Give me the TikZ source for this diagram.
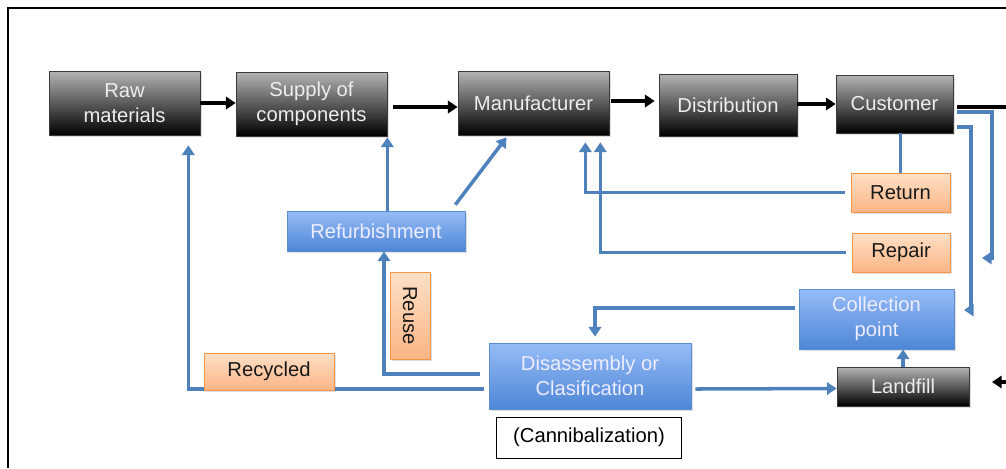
\documentclass[tikz,border=0pt]{standalone}
\usepackage{fontspec}
\setmainfont{Liberation Sans}
\usetikzlibrary{arrows.meta,calc,shadows}
\definecolor{flowblue}{HTML}{4F81BD}
\definecolor{darktop}{HTML}{B4B4B4}
\definecolor{darkedge}{HTML}{3A3A3A}
\definecolor{darktext}{HTML}{EDEDED}
\definecolor{bluetop}{HTML}{96BCF7}
\definecolor{bluebot}{HTML}{4E86D6}
\definecolor{blueedge}{HTML}{5B8DD3}
\definecolor{peachtop}{HTML}{FEE0C6}
\definecolor{peachbot}{HTML}{FBB585}
\definecolor{peachedge}{HTML}{F79646}
\begin{document}
\begin{tikzpicture}[x=.02cm,y=-.02cm,
            font=\fontsize{11.5}{14.5}\selectfont,
            wh/.style 2 args={minimum width=#1*.02cm,minimum height=#2*.02cm},
            box/.style={draw,align=center,inner sep=1pt,
                drop shadow={opacity=.25,shadow xshift=1.2pt,shadow yshift=-1.2pt}},
            dark/.style={box,draw=darkedge,top color=darktop,bottom color=black,text=darktext},
            blue/.style={box,draw=blueedge,top color=bluetop,bottom color=bluebot,text=white!93!blue},
            peach/.style={box,draw=peachedge,top color=peachtop,bottom color=peachbot,text=black!90},
            flow/.style={draw=flowblue,line width=2pt,-{Triangle[width=7pt,length=5.5pt]}},
            main/.style={line width=2pt,-{Triangle[width=7pt,length=5.5pt]}}]
            \useasboundingbox (0,0) rectangle (1006,468);
            \draw[line width=1.2pt] (8,468) |- (1006,8);
            % <<< main chain
            \node[dark,wh={151}{64}] (raw) at (124.5,103) {Raw\\materials};
            \node[dark,wh={151}{64}] (supply) at (311.5,104) {Supply of\\components};
            \node[dark,wh={151}{64}] (manu) at (533.5,103) {Manufacturer};
            \node[dark,wh={138}{62}] (dist) at (728,105) {Distribution};
            \node[dark,wh={117}{58}] (cust) at (894.5,104) {Customer};
            % <<< reverse flow
            \node[peach,wh={99}{39}] (ret) at (900.5,192.5) {Return};
            \node[peach,wh={98}{39}] (rep) at (901,252.5) {Repair};
            \node[blue,wh={155}{60}] (coll) at (876.5,319) {Collection\\point};
            \node[dark,wh={132}{39}] (land) at (903,386.5) {Landfill};
            \node[blue,wh={202}{66}] (disas) at (590,376) {Disassembly or\\Clasification};
            \node[draw,wh={185}{41}] (cann) at (589,437.5) {(Cannibalization)};
            \node[blue,wh={178}{40}] (refurb) at (376,231) {Refurbishment};
            \coordinate (exit) at (1006,107);
            \coordinate (inflow) at (1006,382);
            \coordinate (inend) at (992,382);
            \coordinate (back) at (982,258);
            \coordinate (coll in) at (964,310);
            \begin{scope}
                \draw[main] (raw.east) -- (raw.east -| supply.west);
                \draw[main] ($(supply.east)+(6,3)$) -- ($(manu.west)+(0,4)$);
                \draw[main] ($(manu.east)+(2,-2)$) -- ($(dist.west)+(-4,-4)$);
                \draw[main] (dist.east |- cust.east) -- (cust.west);
                \draw[line width=2pt] ($(cust.east)+(4,3)$) -- (exit);
                \draw[main] (inflow) -- (inend);
            \end{scope}
            \begin{scope}
                \draw[flow] ($(disas.west)+(-5,13)$) -| ($(raw.south east)+(-12,10)$);
                \draw[flow] ($(disas.west)+(-9,-2)$) -| ($(refurb.south)+(8,0)$);
                \draw[flow] (refurb.north -| supply.south east) -- ($(supply.south east)+(0,1)$);
                \draw[flow] ($(refurb.north east)+(-10,-6)$) -- ($(manu.south)+(-27,2)$);
                \draw[draw=flowblue,line width=2pt] (ret.north) -- (ret.north |- cust.south);
                \draw[flow] ($(ret.west)+(-6,0)$) -| ($(manu.south east)+(-24,7)$);
                \draw[flow] ($(rep.west)+(-6,0)$) -| ($(manu.south east)+(-9,7)$);
                \draw[flow] ($(cust.east)+(4,8)$) -| ($(back)+(10,0)$) -- (back);
                \draw[flow] ($(cust.east)+(4,23)$) -| ($(coll in)+(7,0)$) -- (coll in);
                \draw[flow] ($(coll.west)+(-4,-11)$) -| ($(disas.north)+(5,-6)$);
                \draw[flow] (land.north) -- (coll.south -| land.north);
                \draw[flow] ($(disas.east)+(4,13)$) -- ($(land.west)+(0,2)$);
            \end{scope}
            \node[peach,wh={87}{40},rotate=-90] (reuse) at (410,315.5) {Reuse};
            \node[peach,wh={130}{37}] (recyc) at (269,371.5) {Recycled};
        \end{tikzpicture}
\end{document}
